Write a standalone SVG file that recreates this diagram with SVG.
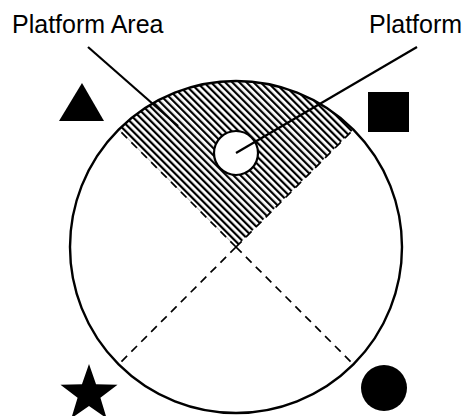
<svg xmlns="http://www.w3.org/2000/svg" width="465" height="416" viewBox="0 0 465 416">
<style>
.lbl{font-family:"Liberation Sans",Arial,sans-serif;font-size:25px;fill:#000}
.ln{stroke:#000;stroke-width:2.2;fill:none}
.dash{stroke:#000;stroke-width:1.7;stroke-dasharray:8 6;fill:none}
.sym{fill:#000;stroke:none}
</style>
<defs>
<pattern id="hatch" patternUnits="userSpaceOnUse" width="5" height="10" patternTransform="rotate(-45)">
<rect x="0" y="0" width="2.2" height="10" fill="#000"/>
</pattern>
</defs>
<rect width="465" height="416" fill="#fff"/>
<g id="arena">
<path d="M236 247 L118.6 129.6 A166 166 0 0 1 353.4 129.6 Z" fill="url(#hatch)"/>
<circle cx="236" cy="247" r="166" fill="none" stroke="#000" stroke-width="2.4"/>
</g>
<g id="dividers">
<line class="dash" x1="236" y1="247" x2="118.6" y2="129.6"/>
<line class="dash" x1="236" y1="247" x2="353.4" y2="129.6"/>
<line class="dash" x1="236" y1="247" x2="118.6" y2="364.4"/>
<line class="dash" x1="236" y1="247" x2="353.4" y2="364.4"/>
</g>
<g id="platform">
<circle cx="236" cy="153" r="22" fill="#fff" stroke="#000" stroke-width="2.2"/>
</g>
<g id="connectors">
<line class="ln" x1="88" y1="47" x2="178" y2="126"/>
<line class="ln" x1="236" y1="153" x2="417" y2="47"/>
</g>
<g id="label-area"><text class="lbl" x="12" y="33">Platform Area</text></g>
<g id="label-platform"><text class="lbl" x="369" y="33">Platform</text></g>
<g id="triangle"><polygon class="sym" points="82,83 59,121 104,121"/></g>
<g id="square"><rect class="sym" x="368" y="92" width="41" height="40"/></g>
<g id="star"><polygon class="sym" points="89,364 96.05,384.29 117.53,384.73 100.41,397.71 106.63,418.27 89,406 71.37,418.27 77.59,397.71 60.47,384.73 81.95,384.29"/></g>
<g id="dot"><circle class="sym" cx="384" cy="388" r="23"/></g>
</svg>
